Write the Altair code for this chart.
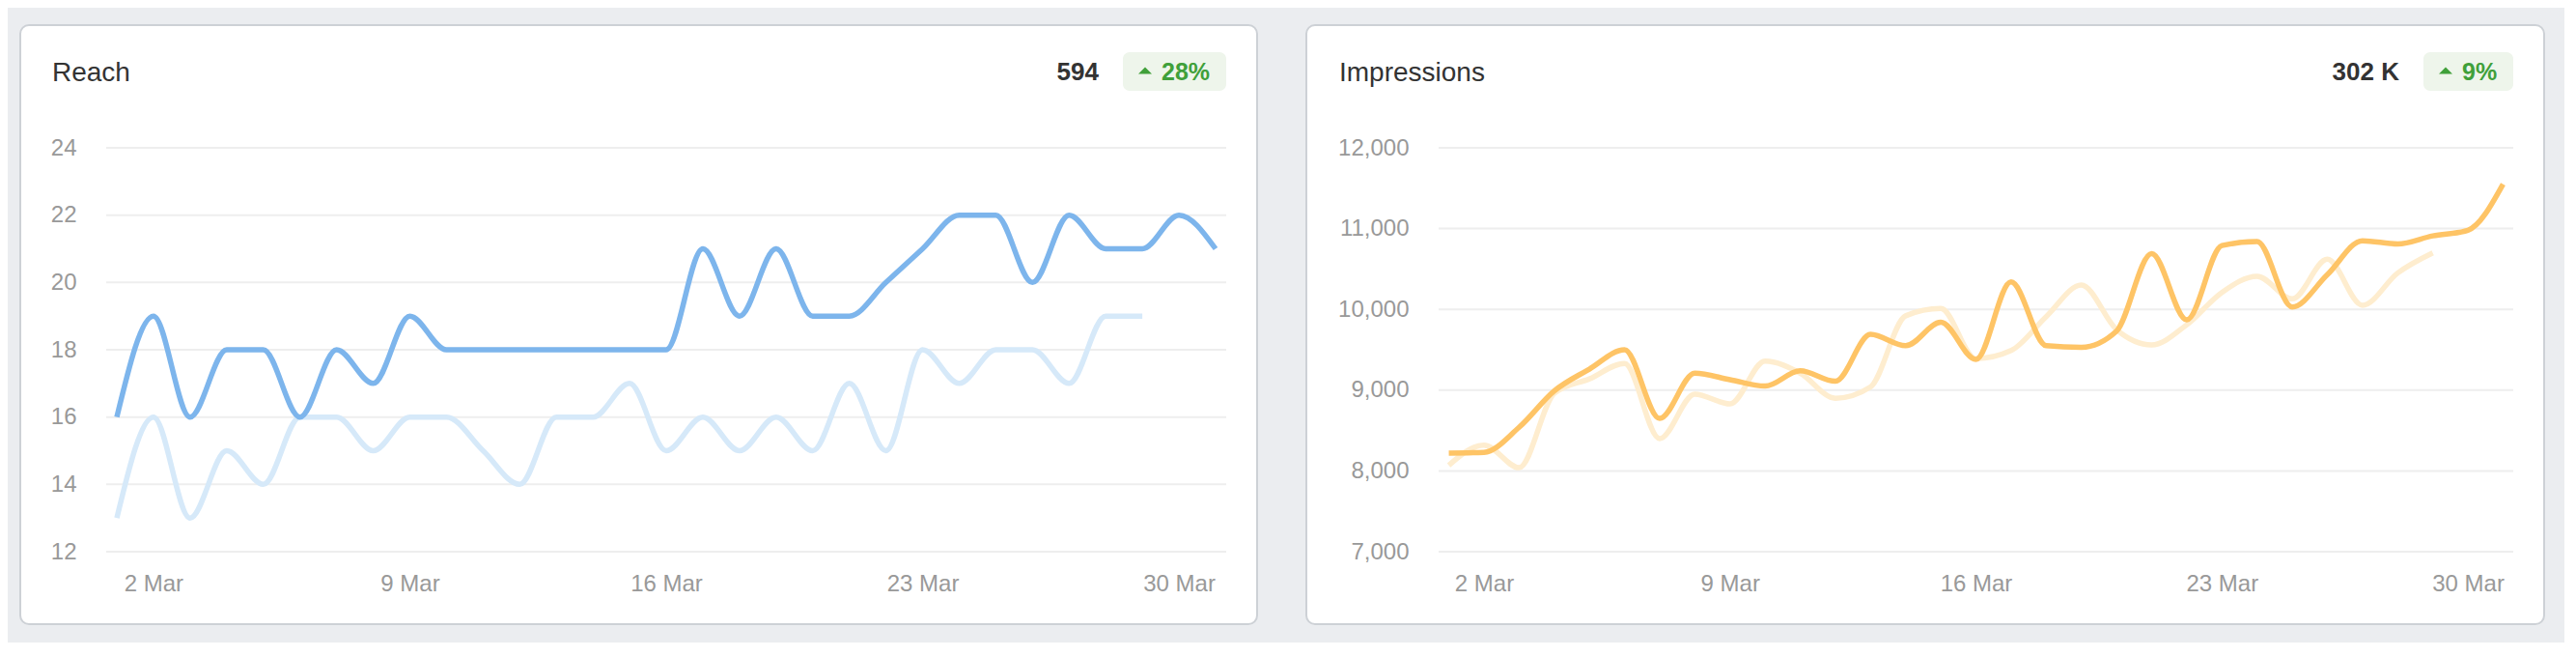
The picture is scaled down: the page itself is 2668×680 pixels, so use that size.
import altair as alt
import pandas as pd

# ---------------- data ----------------
days_current = list(range(1, 32))          # 1..31 March
days_previous = list(range(1, 30))         # previous period, 29 days

reach_current = [16, 19, 16, 18, 18, 16, 18, 17, 19, 18, 18, 18, 18, 18, 18, 18,
                 21, 19, 21, 19, 19, 20, 21, 22, 22, 20, 22, 21, 21, 22, 21]
reach_previous = [13, 16, 13, 15, 14, 16, 16, 15, 16, 16, 15, 14, 16, 16, 17, 15,
                  16, 15, 16, 15, 17, 15, 18, 17, 18, 18, 17, 19, 19]

impr_current = [8220, 8230, 8540, 8990, 9260, 9500, 8650, 9210, 9130, 9050, 9240,
                9110, 9690, 9550, 9840, 9380, 10340, 9550, 9530, 9730, 10690, 9870,
                10790, 10840, 10030, 10430, 10850, 10810, 10910, 10980, 11550]
impr_previous = [8070, 8320, 8040, 8960, 9140, 9330, 8400, 8950, 8830, 9360, 9210,
                 8900, 9040, 9920, 10010, 9390, 9490, 9910, 10300, 9750, 9560, 9810,
                 10210, 10410, 10130, 10620, 10050, 10450, 10700]

x_tick_days = [2, 9, 16, 23, 30]
reach_ticks = [12, 14, 16, 18, 20, 22, 24]
impr_ticks = [7000, 8000, 9000, 10000, 11000, 12000]

FONT = "Liberation Sans"
H = 418


def one_row():
    return pd.DataFrame({"k": [0]})


def panel(title, total, pct, cur, prev, ticks, yfmt, W, card_left, title_x,
          badge_w, dark, light):
    ymin, ymax = ticks[0], ticks[-1]
    yscale = alt.Scale(domain=[ymin, ymax], nice=False, zero=False)
    xscale = alt.Scale(domain=[0.71, 31.29], nice=False, zero=False)
    xaxis = alt.Axis(
        values=x_tick_days, labelExpr="datum.value + ' Mar'", grid=False,
        ticks=False, tickSize=0, domain=False, labelPadding=40,
        labelBaseline="alphabetic", labelFontSize=24, labelFont=FONT,
        labelColor="#999999", labelFlush=False, title=None, zindex=1)
    yaxis = alt.Axis(
        values=ticks, format=yfmt, grid=False, ticks=False, tickSize=0,
        domain=False, labelPadding=31, labelFontSize=24, labelFont=FONT,
        labelColor="#999999", labelBaseline="middle", title=None, zindex=1)

    card = alt.Chart(one_row()).mark_rect(
        fill="white", stroke="#CDD1D6", strokeWidth=2, cornerRadius=9
    ).encode(
        x=alt.value(-card_left), x2=alt.value(W + 32),
        y=alt.value(-127), y2=alt.value(H + 75),
    )

    grid = alt.Chart(pd.DataFrame({"v": ticks})).mark_rule(
        color="#EEEEEE", strokeWidth=2
    ).encode(
        y=alt.Y("v:Q", scale=yscale, axis=yaxis),
        x=alt.value(0), x2=alt.value(W),
    )

    title_t = alt.Chart(one_row()).mark_text(
        align="left", baseline="alphabetic", font=FONT, fontSize=28, color="#333333"
    ).encode(x=alt.value(title_x), y=alt.value(-69), text=alt.value(title))

    total_t = alt.Chart(one_row()).mark_text(
        align="right", baseline="alphabetic", font=FONT, fontSize=26,
        fontWeight="bold", color="#333333"
    ).encode(x=alt.value(W - badge_w - 25), y=alt.value(-70), text=alt.value(total))

    badge = alt.Chart(one_row()).mark_rect(
        fill="#EEF5EB", cornerRadius=7
    ).encode(
        x=alt.value(W - badge_w), x2=alt.value(W),
        y=alt.value(-99), y2=alt.value(-59),
    )

    tri = alt.Chart(one_row()).mark_point(
        shape="M-1,0.5L0,-0.5L1,0.5Z", size=196, filled=True,
        color="#40A03A", opacity=1, strokeWidth=0
    ).encode(x=alt.value(W - badge_w + 23), y=alt.value(-80))

    pct_t = alt.Chart(one_row()).mark_text(
        align="left", baseline="alphabetic", font=FONT, fontSize=25,
        fontWeight="bold", color="#40A03A"
    ).encode(x=alt.value(W - badge_w + 40), y=alt.value(-70), text=alt.value(pct))

    df_prev = pd.DataFrame({"day": days_previous, "value": prev})
    df_cur = pd.DataFrame({"day": days_current, "value": cur})

    prev_line = alt.Chart(df_prev).mark_line(
        color=light, strokeWidth=5.5, interpolate="monotone", strokeJoin="round"
    ).encode(
        x=alt.X("day:Q", scale=xscale, axis=xaxis),
        y=alt.Y("value:Q", scale=yscale, axis=yaxis),
    )

    cur_line = alt.Chart(df_cur).mark_line(
        color=dark, strokeWidth=5.5, interpolate="monotone", strokeJoin="round"
    ).encode(
        x=alt.X("day:Q", scale=xscale, axis=xaxis),
        y=alt.Y("value:Q", scale=yscale, axis=yaxis),
    )

    return alt.layer(card, grid, title_t, total_t, badge, tri, pct_t,
                     prev_line, cur_line).properties(width=W, height=H)


reach = panel("Reach", "594", "28%", reach_current, reach_previous, reach_ticks,
              "d", 1160, 89, -56, 107, "#7DB5EC", "#D6E9F9")
impr = panel("Impressions", "302 K", "9%", impr_current, impr_previous, impr_ticks,
             ",d", 1113, 137, -103, 93, "#FEC466", "#FEEDCF")

chart = alt.hconcat(reach, impr, spacing=220, bounds="flush").properties(
    padding={"left": 12, "top": 17, "right": 20, "bottom": 18}
).configure(background="#EBEDF0").configure_view(stroke=None)

chart.save("out.html", embed_options={"renderer": "svg", "actions": False})
